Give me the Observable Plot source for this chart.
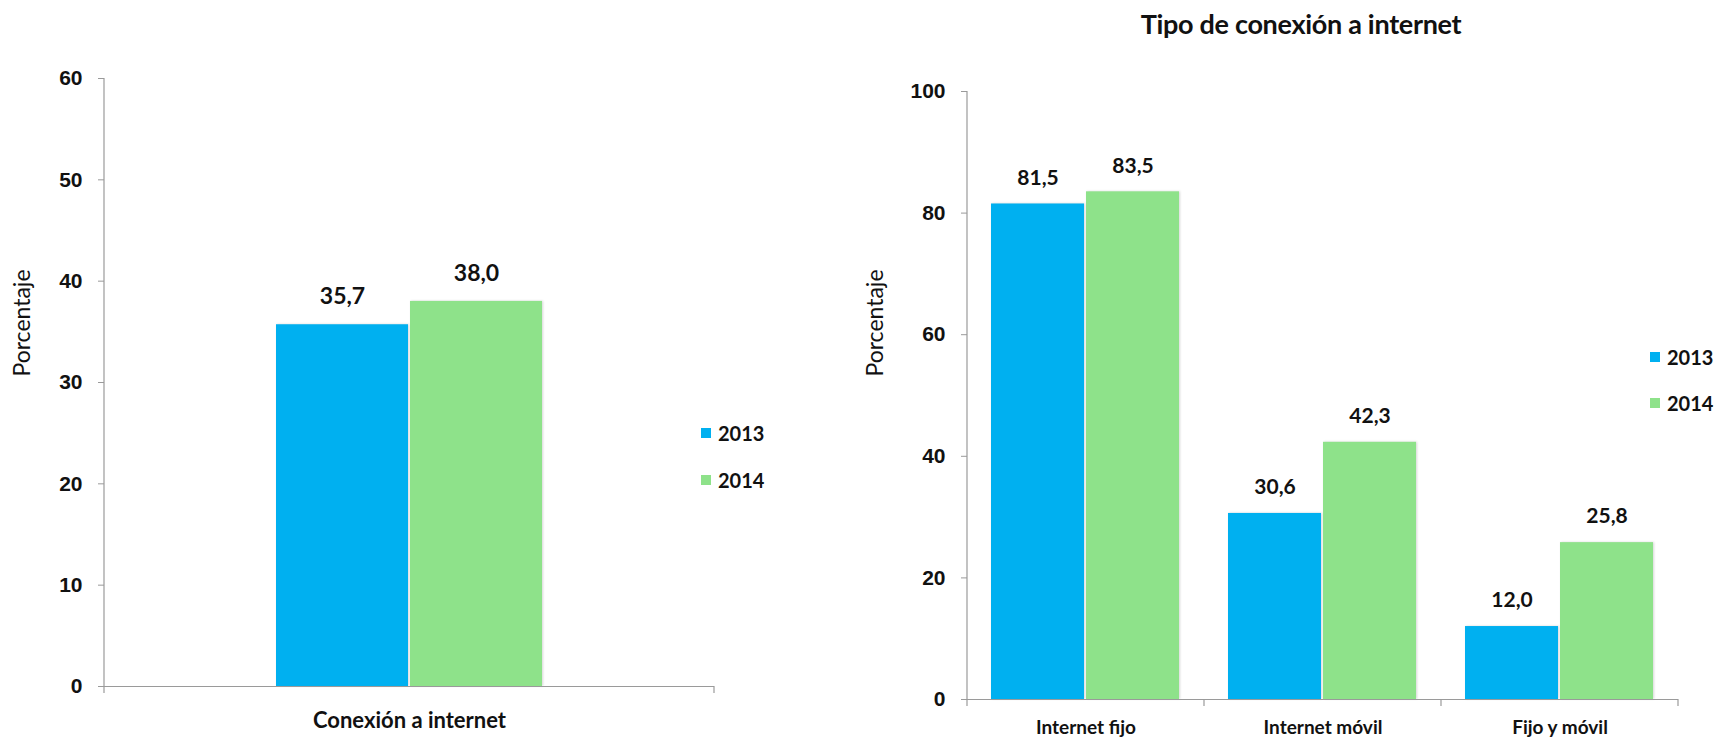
<!DOCTYPE html>
<html>
<head>
<meta charset="utf-8">
<script src="https://cdn.jsdelivr.net/npm/d3@7"></script>
<script src="https://cdn.jsdelivr.net/npm/@observablehq/plot@0.6"></script>
<style>
  body { margin: 0; background: #fff; }
  #wrap { position: relative; width: 1719px; height: 741px; overflow: hidden; background: #fff; font-family: Lato, "Open Sans", sans-serif; color: #111; }
  .panel { position: absolute; top: 0; }
  .legend-item { position: absolute; display: flex; align-items: center; font: bold 20px Lato, sans-serif; color: #111; line-height: 1; }
  .legend-item .sw { width: 10px; height: 10px; margin-right: 7px; }
  .title { position: absolute; font: bold 27px Lato, sans-serif; color: #111; transform: translate(-50%, -50%); white-space: nowrap; letter-spacing: -0.3px; }
  .ylab { position: absolute; font: 23px Lato, sans-serif; color: #111; transform: translate(-50%, -50%) rotate(-90deg); white-space: nowrap; }
  svg g[aria-label="bar"] rect { filter: drop-shadow(1.5px 0px 1px rgba(0,0,0,0.16)); }
</style>
</head>
<body>
<div id="wrap"></div>
<script>
// ---------- data ----------
const years = ["2013", "2014"];
const colors = ["#00b0f0", "#8ee28a"];
const yLabel = "Porcentaje";

const leftCategories = ["Conexión a internet"];
const left2013 = [35.7];
const left2014 = [38.0];
const leftTicks = [0, 10, 20, 30, 40, 50, 60];

const rightTitle = "Tipo de conexión a internet";
const rightCategories = ["Internet fijo", "Internet móvil", "Fijo y móvil"];
const right2013 = [81.5, 30.6, 12.0];
const right2014 = [83.5, 42.3, 25.8];
const rightTicks = [0, 20, 40, 60, 80, 100];

// ---------- helpers ----------
const axisColor = "#9a9a9a";
const fmt = v => v.toFixed(1).replace(".", ",");
const rows = (cats, a, b) => cats.flatMap((c, i) => [
  {cat: c, year: years[0], value: a[i]},
  {cat: c, year: years[1], value: b[i]}
]);

function panel(o) {
  const data = rows(o.cats, o.s1, o.s2);
  const svg = Plot.plot({
    width: o.width, height: 741,
    marginLeft: o.ml, marginRight: o.mr, marginTop: o.mt, marginBottom: o.mb,
    style: {background: "transparent", color: "#111", overflow: "visible"},
    fx: {domain: o.cats, padding: 0, label: null},
    x: {domain: years, paddingInner: o.pi, paddingOuter: o.po, axis: null},
    y: {domain: [0, d3.max(o.ticks)], label: null},
    color: {domain: years, range: colors},
    marks: [
      Plot.barY(data, {fx: "cat", x: "year", y: "value", fill: "year"}),
      Plot.text(data, {fx: "cat", x: "year", y: "value", text: d => fmt(d.value), dy: -o.valueDy,
        fontSize: o.valueFontSize, fontWeight: "bold", fontFamily: "Lato, sans-serif", fill: "#111"}),
      Plot.ruleY([0], {stroke: axisColor, strokeWidth: 1.2}),
      Plot.axisY({ticks: o.ticks, tickSize: 6, tickPadding: 16, stroke: axisColor,
        fontSize: 21, fontWeight: "bold", fontFamily: "'Liberation Sans', Arial, sans-serif", fill: "#111", label: null}),
      Plot.axisFx({anchor: "bottom", tickSize: 0, tickPadding: o.fxPad, fontSize: o.fxFontSize,
        fontWeight: "bold", fontFamily: "Lato, sans-serif", fill: "#111", label: null})
    ]
  });
  // axis line and category boundary ticks, from the scales
  const fx = svg.scale("fx"), y = svg.scale("y");
  const y0 = y.apply(0), yTop = y.apply(d3.max(o.ticks));
  const edges = o.cats.map(c => fx.apply(c)).concat([fx.apply(o.cats[o.cats.length - 1]) + fx.bandwidth]);
  const g = d3.select(svg).append("g").attr("stroke", axisColor).attr("stroke-width", 1.2);
  g.append("line").attr("x1", edges[0]).attr("x2", edges[0]).attr("y1", yTop).attr("y2", y0);
  g.selectAll("line.edge").data(edges).join("line").attr("class", "edge")
    .attr("x1", d => d).attr("x2", d => d).attr("y1", y0).attr("y2", y0 + 7);
  svg.classList.add("panel");
  svg.style.left = o.left + "px";
  return svg;
}

const wrap = document.getElementById("wrap");

wrap.appendChild(panel({
  cats: leftCategories, s1: left2013, s2: left2014, ticks: leftTicks,
  left: 0, width: 760, ml: 104, mr: 46, mt: 78, mb: 55,
  pi: 0.015, po: 1.267, valueDy: 28, valueFontSize: 23, fxPad: 26, fxFontSize: 22
}));

wrap.appendChild(panel({
  cats: rightCategories, s1: right2013, s2: right2014, ticks: rightTicks,
  left: 760, width: 959, ml: 206, mr: 41, mt: 91, mb: 42,
  pi: 0.02, po: 0.25, valueDy: 26, valueFontSize: 21, fxPad: 21, fxFontSize: 19
}));

// title
const t = document.createElement("div");
t.className = "title"; t.textContent = rightTitle;
t.style.left = "1301px"; t.style.top = "23px";
wrap.appendChild(t);

// y-axis titles
[[21, 323], [874, 323]].forEach(([x, y]) => {
  const d = document.createElement("div");
  d.className = "ylab"; d.textContent = yLabel;
  d.style.left = x + "px"; d.style.top = y + "px";
  wrap.appendChild(d);
});

// legends
function legend(x, ys) {
  years.forEach((yr, i) => {
    const d = document.createElement("div");
    d.className = "legend-item";
    d.style.left = x + "px"; d.style.top = (ys[i] - 10) + "px"; d.style.height = "20px";
    d.innerHTML = `<span class="sw" style="background:${colors[i]}"></span><span>${yr}</span>`;
    wrap.appendChild(d);
  });
}
legend(701, [433, 480]);
legend(1650, [357, 403]);
</script>
</body>
</html>
